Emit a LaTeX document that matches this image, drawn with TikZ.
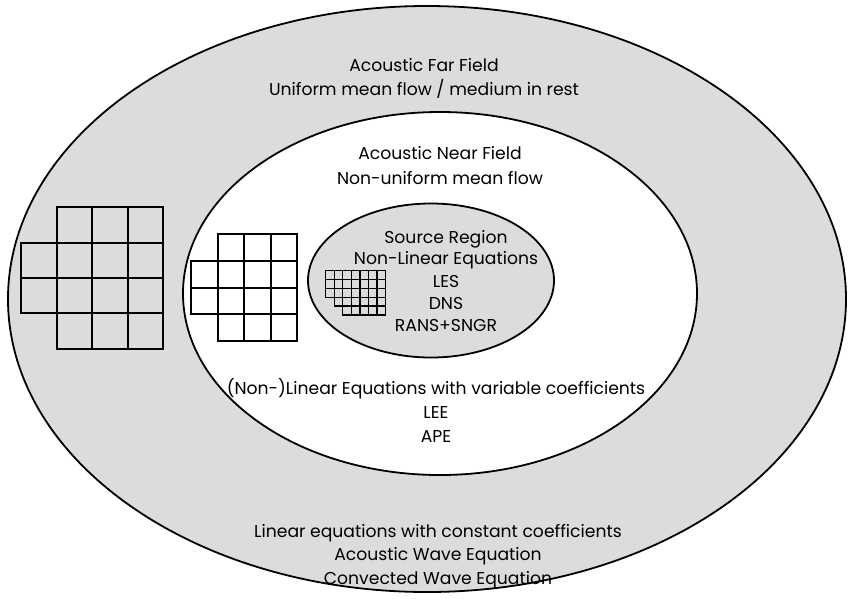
\documentclass[tikz,border=0pt]{standalone}
\usepackage{fontspec}
\setmainfont{Poppins}
\definecolor{fieldgray}{RGB}{220,220,220}
\begin{document}
\begin{tikzpicture}[x=1pt,y=-1pt,
  rim/.style={draw=black,line width=1.8pt},
  bigcell/.style={draw=black,line width=2pt,line cap=rect},
  midcell/.style={draw=black,line width=2pt,line cap=rect},
  tinycell/.style={draw=black,line width=1.3pt,line cap=rect},
  label/.style={font=\fontsize{17.2}{20}\selectfont,inner sep=0pt,anchor=base}]
\useasboundingbox (0,0) rectangle (848,598);
% ellipses
\draw[rim,fill=fieldgray] (427,299) ellipse [x radius=419,y radius=293];
\draw[rim,fill=white] (440,293.5) ellipse [x radius=257,y radius=181.5];
\draw[rim,fill=fieldgray] (431,280.5) ellipse [x radius=123,y radius=77];
% outer grid
\foreach \x in {57,92,128,163} \draw[bigcell] (\x,207) -- (\x,349);
\draw[bigcell] (21,243) -- (21,313);
\foreach \y in {207,349} \draw[bigcell] (57,\y) -- (163,\y);
\foreach \y in {243,278,313} \draw[bigcell] (21,\y) -- (163,\y);
% middle grid
\foreach \x in {218,244,271,297} \draw[midcell] (\x,234) -- (\x,341);
\draw[midcell] (191,261) -- (191,314);
\foreach \y in {234,341} \draw[midcell] (218,\y) -- (297,\y);
\foreach \y in {261,288,314} \draw[midcell] (191,\y) -- (297,\y);
% small grid
\foreach \j in {0,1,2,3} \draw[tinycell] (325.7,{270.7+\j*8.86}) -- (385.7,{270.7+\j*8.86});
\draw[tinycell] (334.27,{270.7+4*8.86}) -- (385.7,{270.7+4*8.86});
\draw[tinycell] (342.84,{270.7+5*8.86}) -- (385.7,{270.7+5*8.86});
\draw[tinycell] (325.7,270.7) -- (325.7,{270.7+3*8.86});
\draw[tinycell] (334.27,270.7) -- (334.27,{270.7+4*8.86});
\foreach \i in {2,...,7} \draw[tinycell] ({325.7+\i*8.57},270.7) -- ({325.7+\i*8.57},{270.7+5*8.86});
% texts
\node[label] (far1) at (424,71) {Acoustic Far Field};
\node[label] (far2) at (424,95) {Uniform mean flow / medium in rest};
\node[label] (near1) at (440,159) {Acoustic Near Field};
\node[label] (near2) at (440,184) {Non-uniform mean flow};
\node[label] (src1) at (446,243) {Source Region};
\node[label] (src2) at (446,264) {Non-Linear Equations};
\node[label] (src3) at (446,287) {LES};
\node[label] (src4) at (446,309) {DNS};
\node[label] (src5) at (446,331) {RANS+SNGR};
\node[label] (var1) at (436,394) {(Non-)Linear Equations with variable coefficients};
\node[label] (var2) at (436,418) {LEE};
\node[label] (var3) at (436,442) {APE};
\node[label] (con1) at (438,537) {Linear equations with constant coefficients};
\node[label] (con2) at (438,560) {Acoustic Wave Equation};
\node[label] (con3) at (438,584) {Convected Wave Equation};
\end{tikzpicture}
\end{document}
